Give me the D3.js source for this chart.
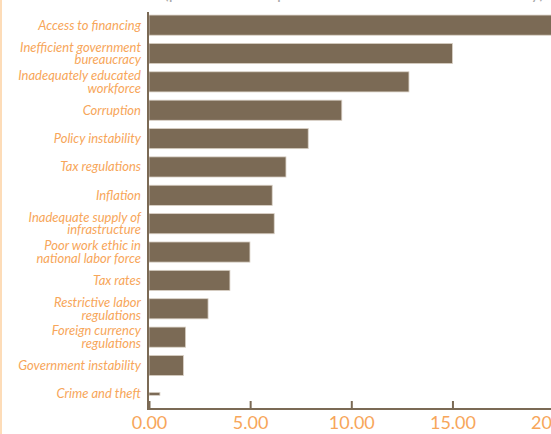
<!DOCTYPE html>
<html lang="en">
<head>
    <meta charset="utf-8">
    <title>Most problematic factors</title>
    <script src="https://cdn.jsdelivr.net/npm/d3@7"></script>
    <style>
        body { margin: 0; background: #fff; }
        svg { display: block; }
        .cat { font-family: Lato, "Open Sans", sans-serif; font-style: italic; font-size: 13px; fill: #f7a65a; }
        .xlab { font-family: Lato, "Open Sans", sans-serif; font-size: 18px; fill: #f7a65a; }
    </style>
</head>
<body>
<script>
    // factors, top to bottom (multi-line labels split with |)
    var factors = [
        "Access to financing",
        "Inefficient government|bureaucracy",
        "Inadequately educated|workforce",
        "Corruption",
        "Policy instability",
        "Tax regulations",
        "Inflation",
        "Inadequate supply of|infrastructure",
        "Poor work ethic in|national labor force",
        "Tax rates",
        "Restrictive labor|regulations",
        "Foreign currency|regulations",
        "Government instability",
        "Crime and theft"
    ];
    var percents = [21.0, 15.0, 12.85, 9.53, 7.87, 6.77, 6.09, 6.19, 4.99, 4.0, 2.92, 1.81, 1.70, 0.54];
    var xTicks = [0, 5, 10, 15, 20];

    var w = 551, h = 434;
    var barColor = "#7b6a55";

    var svg = d3.select("body").append("svg")
        .attr("width", w)
        .attr("height", h);

    // pale page border on the left
    svg.append("rect")
        .attr("x", 0).attr("y", 0)
        .attr("width", 2).attr("height", h)
        .attr("fill", "#fddcb8");

    // title, almost completely cut off at the top
    svg.append("text")
        .attr("x", 20).attr("y", -1.5)
        .attr("font-family", "Lato, sans-serif")
        .attr("font-size", 17)
        .attr("fill", "#aaa")
        .text("Business factors");
    svg.append("text")
        .attr("x", 164).attr("y", -1.5)
        .attr("font-family", "Lato, sans-serif")
        .attr("font-size", 17)
        .attr("fill", "#aaa")
        .attr("textLength", 380)
        .text("(percent of responses from the executive survey)");

    var x = d3.scaleLinear()
        .domain([0, 20])
        .range([149, 553.6]);

    var y = d3.scaleBand()
        .domain(factors)
        .range([10.8, 408.2])
        .paddingInner(0.29)
        .paddingOuter(0.15);

    var data = factors.map(function (f, i) { return { name: f, value: percents[i] }; });

    // bars
    svg.selectAll("rect.bar")
        .data(data)
        .enter().append("rect")
        .attr("class", "bar")
        .attr("x", x(0))
        .attr("y", function (d) {
            var bh = d.value < 1 ? 3 : y.bandwidth();
            return y(d.name) + y.bandwidth() / 2 - bh / 2;
        })
        .attr("width", function (d) { return x(d.value) - x(0); })
        .attr("height", function (d) { return d.value < 1 ? 3 : y.bandwidth(); })
        .attr("fill", barColor)
        .attr("stroke", "#d9d0c5")
        .attr("stroke-width", 0.8);

    // category labels
    var labels = svg.selectAll("text.cat")
        .data(data)
        .enter().append("text")
        .attr("class", "cat")
        .attr("text-anchor", "end")
        .attr("transform", function (d) {
            return "translate(141," + (y(d.name) + y.bandwidth() / 2) + ")";
        });
    labels.each(function (d) {
        var lines = d.name.split("|");
        var t = d3.select(this);
        lines.forEach(function (ln, i) {
            t.append("tspan")
                .attr("x", 0)
                .attr("y", (i - (lines.length - 1) / 2) * 12.5 + 4.5)
                .text(ln);
        });
    });

    // x axis
    var xAxis = d3.axisBottom(x)
        .tickValues(xTicks)
        .tickSize(-8)
        .tickPadding(7)
        .tickFormat(d3.format(".2f"));

    var gx = svg.append("g")
        .attr("transform", "translate(0,409)")
        .call(xAxis);
    gx.select(".domain").remove();
    gx.selectAll(".tick line").attr("stroke", barColor).attr("stroke-width", 2);
    gx.selectAll(".tick text").attr("class", "xlab").attr("fill", null).attr("font-size", null).attr("font-family", null);
    gx.append("line")
        .attr("x1", x(0) - 1).attr("x2", w)
        .attr("y1", 0).attr("y2", 0)
        .attr("stroke", barColor).attr("stroke-width", 2);

    // y axis line
    svg.append("line")
        .attr("x1", x(0) - 1).attr("x2", x(0) - 1)
        .attr("y1", 12).attr("y2", 410)
        .attr("stroke", barColor).attr("stroke-width", 2);
</script>
</body>
</html>
